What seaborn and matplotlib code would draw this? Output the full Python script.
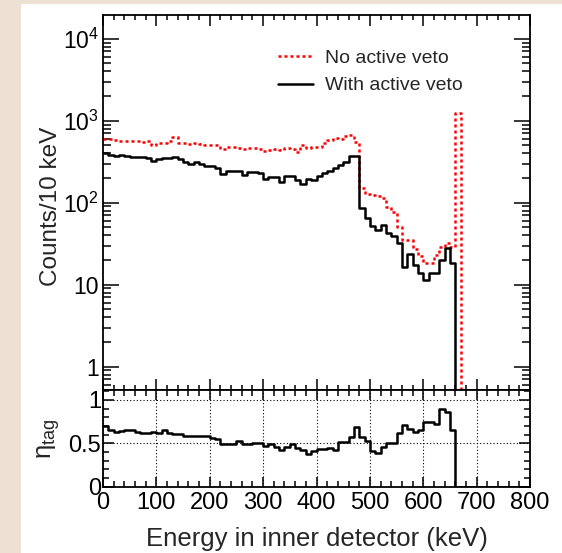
import numpy as np
import pandas as pd
import matplotlib
matplotlib.use("Agg")
import matplotlib.pyplot as plt
import seaborn as sns
from matplotlib.ticker import MultipleLocator, LogLocator, FuncFormatter, NullFormatter, FixedLocator
from matplotlib.patches import Rectangle

# ---------------- data (10 keV bins, 0-800 keV) ----------------
bin_edges_kev = list(range(0, 810, 10))

no_veto = [593, 593, 582, 565, 565, 571, 565, 555, 565, 506,
           540, 540, 571, 627, 540, 530, 520, 540, 520, 506,
           506, 506, 448, 482, 482, 460, 448, 460, 469, 448,
           431, 439, 448, 439, 460, 448, 419, 506, 460, 482,
           482, 540, 582, 610, 593, 650, 669, 555, 150, 128,
           124, 121, 113, 89, 78, 50, 35, 35, 27, 22.4,
           18.5, 18.5, 23, 29, 32.5, 28.6, 1253, 0, 0, 0,
           0, 0, 0, 0, 0, 0, 0, 0, 0, 0]

with_veto = [400, 382, 375, 382, 371, 364, 358, 358, 348, 322,
             338, 355, 348, 358, 338, 313, 296, 313, 296, 282,
             282, 262, 224, 246, 246, 246, 218, 239, 239, 228,
             193, 208, 208, 180, 212, 212, 189, 169, 193, 189,
             212, 228, 246, 262, 288, 316, 371, 371, 87, 66,
             52, 46, 53, 43, 39, 32, 16.3, 23.7, 17.4, 14,
             11.4, 14, 14, 20, 27.8, 18.2, 0, 0, 0, 0,
             0, 0, 0, 0, 0, 0, 0, 0, 0, 0]

eta_tag = [0.700, 0.654, 0.635, 0.646, 0.654, 0.654, 0.631, 0.615, 0.615, 0.635,
           0.615, 0.654, 0.623, 0.608, 0.608, 0.588, 0.588, 0.588, 0.588, 0.588,
           0.565, 0.550, 0.492, 0.492, 0.492, 0.527, 0.492, 0.492, 0.500, 0.507,
           0.469, 0.492, 0.461, 0.423, 0.454, 0.492, 0.442, 0.423, 0.377, 0.415,
           0.435, 0.431, 0.446, 0.423, 0.519, 0.519, 0.569, 0.685, 0.569, 0.530,
           0.415, 0.392, 0.461, 0.507, 0.507, 0.623, 0.711, 0.661, 0.635, 0.654,
           0.750, 0.750, 0.723, 0.892, 0.865, 0.654, 0, 0, 0, 0,
           0, 0, 0, 0, 0, 0, 0, 0, 0, 0]

series_labels = ["No active veto", "With active veto"]
series_colors = ["#ff0000", "#000000"]
x_ticks = [0, 100, 200, 300, 400, 500, 600, 700, 800]
log_tick_labels = {1: "1", 10: "10", 100: "$10^{2}$", 1000: "$10^{3}$", 10000: "$10^{4}$"}
eta_ticks = [0, 0.5, 1]
eta_tick_labels = ["0", "0.5", "1"]
x_label = "Energy in inner detector (keV)"
y_label_top = "Counts/10 keV"
y_label_bottom = r"$\mathrm{\eta}_{\mathrm{tag}}$"

# ---------------- style ----------------
sns.set_theme(style="ticks")
plt.rcParams["font.family"] = ["Liberation Sans", "DejaVu Sans"]
plt.rcParams["mathtext.fontset"] = "custom"
plt.rcParams["mathtext.rm"] = "Liberation Sans"
plt.rcParams["mathtext.it"] = "Liberation Sans:italic"
plt.rcParams["mathtext.bf"] = "Liberation Sans:bold"
plt.rcParams["axes.edgecolor"] = "black"
plt.rcParams["xtick.color"] = "black"
plt.rcParams["ytick.color"] = "black"

W, H = 562, 553
fig = plt.figure(figsize=(W / 100, H / 100), dpi=100, facecolor="#ece1d3")
fig.add_artist(Rectangle((21 / W, 0), 1 - 21 / W, 1 - 4 / H, transform=fig.transFigure,
                         facecolor="white", edgecolor="none", zorder=0))

left, right = 103 / W, 530 / W
ax1 = fig.add_axes([left, 1 - 390 / H, right - left, (390 - 15) / H])
ax2 = fig.add_axes([left, 1 - 486.7 / H, right - left, (486.7 - 390) / H])

# long-form tables (steps-post: repeat last value at right edge)
def step_values(v):
    return list(v) + [v[-1]]

hist_df = pd.concat([
    pd.DataFrame({"E": bin_edges_kev, "counts": step_values(no_veto), "series": series_labels[0]}),
    pd.DataFrame({"E": bin_edges_kev, "counts": step_values(with_veto), "series": series_labels[1]}),
], ignore_index=True)
eta_df = pd.DataFrame({"E": bin_edges_kev, "eta": step_values(eta_tag)})

sns.lineplot(data=hist_df, x="E", y="counts", hue="series", style="series",
             hue_order=series_labels, style_order=series_labels,
             palette=dict(zip(series_labels, series_colors)),
             dashes={series_labels[0]: (1.2, 1.2), series_labels[1]: ""},
             drawstyle="steps-post", linewidth=1.8, errorbar=None, sort=False,
             legend=False, ax=ax1)
ax1.set_yscale("log")
ax1.set_xlim(0, 800)
ax1.set_ylim(0.52, 1.95e4)

sns.lineplot(data=eta_df, x="E", y="eta", color="black", drawstyle="steps-post",
             linewidth=1.8, errorbar=None, sort=False, ax=ax2)
ax2.set_xlim(0, 800)
ax2.set_ylim(0, 1.115)

# ---------------- ticks ----------------
for ax in (ax1, ax2):
    ax.set_facecolor("white")
    ax.xaxis.set_major_locator(FixedLocator(x_ticks))
    ax.xaxis.set_minor_locator(MultipleLocator(20))
    for s in ax.spines.values():
        s.set_visible(True)
        s.set_linewidth(1.3)

ax1.yaxis.set_major_locator(LogLocator(base=10, subs=(1.0,), numticks=10))
ax1.yaxis.set_minor_locator(LogLocator(base=10, subs=np.arange(2, 10), numticks=20))
ax1.yaxis.set_major_formatter(FuncFormatter(lambda v, p: log_tick_labels.get(int(round(v)), "")))
ax1.yaxis.set_minor_formatter(NullFormatter())
ax1.tick_params(axis="both", which="both", direction="in", top=True, right=True,
                labelbottom=False, width=1.1, labelsize=16.5, pad=3)
ax1.tick_params(axis="y", which="major", length=11.5)
ax1.tick_params(axis="y", which="minor", length=5.8)
ax1.tick_params(axis="x", which="major", length=8)
ax1.tick_params(axis="x", which="minor", length=3.8)

ax2.yaxis.set_major_locator(FixedLocator(eta_ticks))
ax2.yaxis.set_major_formatter(FuncFormatter(lambda v, p: dict(zip(eta_ticks, eta_tick_labels)).get(v, "")))
ax2.yaxis.set_minor_locator(MultipleLocator(0.1))
ax2.tick_params(axis="both", which="both", direction="in", top=True, right=True,
                width=1.1, labelsize=17)
ax2.tick_params(axis="y", which="major", length=8, pad=1.2)
ax2.tick_params(axis="y", which="minor", length=4)
ax2.tick_params(axis="x", which="major", length=7, pad=4)
ax2.tick_params(axis="x", which="minor", length=4)
ax2.grid(True, which="major", axis="both", linestyle=(0, (1, 2)), linewidth=0.8, color="black")

# ---------------- labels ----------------
ax1.set_xlabel("")
ax1.set_ylabel(y_label_top, fontsize=17.5)
ax1.yaxis.set_label_coords(-0.096, 0.49)
ax2.set_ylabel(y_label_bottom, fontsize=18.5)
ax2.yaxis.set_label_coords(-0.096, 0.5)
ax2.set_xlabel(x_label, fontsize=18.5)
ax2.xaxis.set_label_coords(0.5, -0.42)

handles = ax1.get_lines()[:2]
ax1.legend(handles=handles, labels=series_labels, loc="upper left",
           bbox_to_anchor=(278 / W, 1 - 49 / H), bbox_transform=fig.transFigure,
           frameon=False, fontsize=14, handlelength=1.8, handletextpad=0.6,
           labelspacing=0.52, borderpad=0, borderaxespad=0)

fig.savefig("out.png", dpi=100, facecolor=fig.get_facecolor())
